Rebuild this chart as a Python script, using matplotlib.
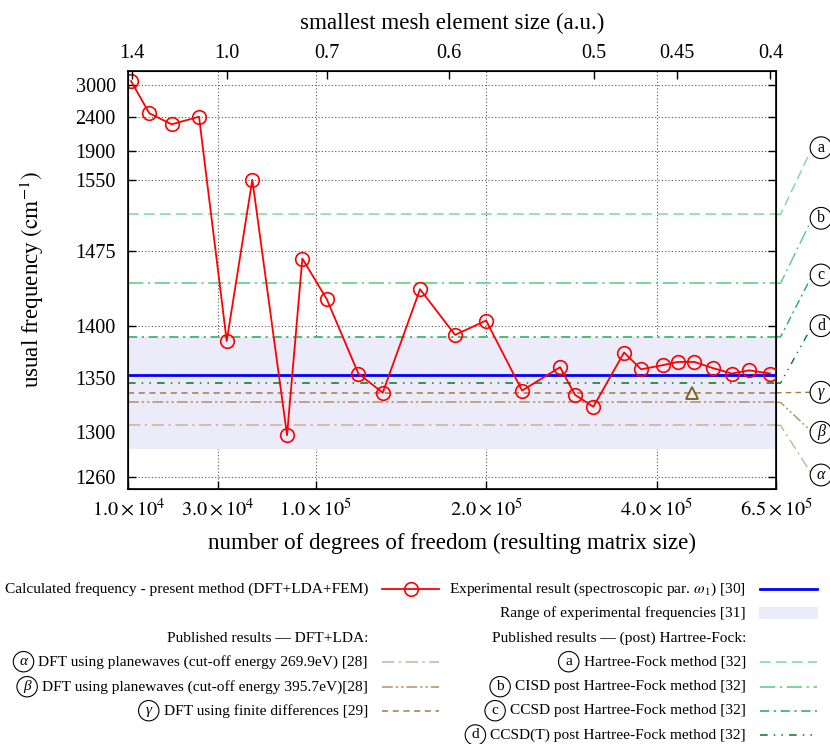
import numpy as np
import matplotlib
matplotlib.use("Agg")
import matplotlib.pyplot as plt
from matplotlib.lines import Line2D
from matplotlib.patches import Rectangle

plt.rcParams["font.family"] = ["Liberation Serif", "DejaVu Serif"]
plt.rcParams["mathtext.fontset"] = "stix"

# =========================
# Data
# =========================
# present method: number of degrees of freedom vs. frequency (cm^-1)
dof = [10340, 12940, 17030, 23810, 33450, 45790, 70100, 84600,
       104500, 118800, 131200, 152700, 176100, 199800, 231300, 270000,
       286900, 309100, 350300, 375400, 410600, 435800, 466400, 503800,
       543000, 582600, 634600]
freq = [3085, 2463, 2281, 2405, 1385, 1550, 1297, 1467,
        1426, 1354, 1336, 1436, 1391, 1405, 1338, 1360,
        1334, 1323, 1374, 1358, 1362, 1365, 1365, 1359,
        1354, 1357, 1354]

exp_freq = 1353                  # experimental result [30]
exp_low, exp_high = 1285, 1389   # range of experimental frequencies [31]

dft_keys = ["α", "β", "γ"]
dft_freq = [1306, 1327, 1336]
dft_labels = ["DFT using planewaves (cut-off energy 269.9eV) [28]",
              "DFT using planewaves (cut-off energy 395.7eV)[28]",
              "DFT using finite differences [29]"]

hf_keys = ["a", "b", "c", "d"]
hf_freq = [1513, 1442, 1389, 1345]
hf_labels = ["Hartree-Fock method [32]",
             "CISD post Hartree-Fock method [32]",
             "CCSD post Hartree-Fock method [32]",
             "CCSD(T) post Hartree-Fock method [32]"]

fd_dof = [461000]     # finite differences point
fd_freq = [1336]

y_ticks = [1260, 1300, 1350, 1400, 1475, 1550, 1900, 2400, 3000]
x_ticks = [1.0e4, 3.0e4, 1.0e5, 2.0e5, 4.0e5, 6.5e5]
x_tick_labels = [r"$1.0\times10^{4}$", r"$3.0\times10^{4}$", r"$1.0\times10^{5}$",
                 r"$2.0\times10^{5}$", r"$4.0\times10^{5}$", r"$6.5\times10^{5}$"]
mesh_ticks = [1.4, 1.0, 0.7, 0.6, 0.5, 0.45, 0.4]
mesh_tick_labels = ["1.4", "1.0", "0.7", "0.6", "0.5", "0.45", "0.4"]

# =========================
# Styles
# =========================
dft_colors = ["#c9b293", "#b3905c", "#a07d45"]
dft_styles = [(0, (8, 3, 1.5, 3)), (0, (7, 2, 1.5, 2, 1.5, 2)), (0, (4, 3))]
hf_colors = ["#77dd99", "#55cc80", "#22aa55", "#007a1f"]
hf_styles = [(0, (7, 3.5)), (0, (10, 3, 1.5, 3)), (0, (6, 3, 1.5, 3)),
             (0, (5, 4, 1, 4, 1, 4))]
band_color = "#ebebfa"
tick_fs = 14.6
label_fs = 16.6
fs = 11.1


# piecewise logarithmic scale: slope changes by k above brk
def broken_log(brk, k):
    lb = np.log(brk)

    def fwd(v):
        l = np.log(np.clip(np.asarray(v, dtype=float), 1e-12, None))
        return np.where(l < lb, l, lb + k * (l - lb))

    def inv(u):
        u = np.asarray(u, dtype=float)
        return np.exp(np.where(u < lb, u, lb + (u - lb) / k))
    return fwd, inv


mfwd, minv = broken_log(1 / 0.7, 2.82)


def mesh_fwd(h):
    return mfwd(1.0 / np.clip(np.asarray(h, dtype=float), 1e-12, None))


def mesh_inv(u):
    return 1.0 / minv(u)


W, H = 830, 744
fig = plt.figure(figsize=(W / 100, H / 100), dpi=100)
ax = fig.add_axes([128.3 / W, 1 - 488.7 / H, (776 - 128.3) / W, (488.7 - 71) / H])

ax.set_xscale("function", functions=broken_log(1e5, 3.015))
ax.set_yscale("function", functions=broken_log(1550, 0.1))
ax.set_xlim(1e4, 6.5e5)
ax.set_ylim(1249.5, 3308)

ax.grid(True, linestyle=(0, (1, 2)), color="#555555", linewidth=0.8)
ax.axhspan(exp_low, exp_high, color=band_color, lw=0, zorder=1.6)

for v, c, ls in zip(dft_freq, dft_colors, dft_styles):
    ax.axhline(v, color=c, ls=ls, lw=1.1, zorder=2)
for v, c, ls in zip(hf_freq, hf_colors, hf_styles):
    ax.axhline(v, color=c, ls=ls, lw=1.1, zorder=2)
ax.axhline(exp_freq, color="#0000ff", lw=2, zorder=3)

ax.plot(dof, freq, color="red", lw=1.3, marker="o", ms=9.8, mfc="none",
        mew=1.2, zorder=5)
ax.plot(fd_dof, fd_freq, ls="none", marker="^", ms=8, mfc="none",
        mec="#7a5c1a", mew=1.3, zorder=5)

ax.set_xticks(x_ticks, x_tick_labels)
ax.set_yticks(y_ticks, [str(v) for v in y_ticks])
ax.tick_params(axis="both", direction="in", length=6, width=1, labelsize=tick_fs,
               right=True, top=False)
ax.tick_params(axis="x", pad=7)
ax.tick_params(axis="y", pad=9)
for s in ax.spines.values():
    s.set_linewidth(1.2)

ax.set_xlabel("number of degrees of freedom (resulting matrix size)", fontsize=label_fs)
ax.xaxis.set_label_coords(0.5, -0.105)
ax.set_ylabel(r"usual frequency $\left(\mathrm{cm}^{-1}\right)$", fontsize=label_fs)
ax.yaxis.set_label_coords(-0.127, 0.5)

# top axis: mesh element size (decreasing to the right)
top = ax.twiny()
top.set_xscale("function", functions=(mesh_fwd, mesh_inv))
top.set_xlim(0.3972, 1.4193)
top.set_xticks(mesh_ticks, mesh_tick_labels)
top.tick_params(axis="x", direction="in", length=6, width=1, labelsize=tick_fs, pad=5.5)
top.set_xlabel("smallest mesh element size (a.u.)", fontsize=label_fs)
top.xaxis.set_label_coords(0.5, 1.0994)

# =========================
# Labels on the right of the plot
# =========================
def axes_y(v):
    disp = ax.transData.transform([[1e4, v]])
    return ax.transAxes.inverted().transform(disp)[0, 1]


circle_box = dict(boxstyle="circle,pad=0.18", fc="white", ec="black", lw=0.8)
right_keys = hf_keys + dft_keys[::-1]
right_vals = hf_freq + dft_freq[::-1]
right_cols = hf_colors + dft_colors[::-1]
right_ls = hf_styles + dft_styles[::-1]
right_pos = [147.7, 218.3, 275, 325.7, 392.3, 432.3, 475]
for key, v, c, ls, py in zip(right_keys, right_vals, right_cols, right_ls, right_pos):
    y0 = axes_y(v)
    yl = (488.7 - py) / 417.7
    ax.plot([1.0, 1.007, 1.056], [y0, y0, yl], transform=ax.transAxes,
            clip_on=False, color=c, ls=ls, lw=1.0)
    style = "italic" if key in dft_keys else "normal"
    ax.text(1.0695, yl, key, transform=ax.transAxes, ha="center", va="center",
            fontsize=11.5, style=style, bbox=circle_box, clip_on=False)

# =========================
# Legend (gnuplot style, text right-aligned, sample on the right)
# =========================
rows = [589, 613.3, 638.3, 661.7, 686.7, 710.7, 735]
legend_circle = dict(boxstyle="circle,pad=0.24", fc="white", ec="black", lw=0.8)


def ftext(px, py, s, **kw):
    return fig.text(px / W, 1 - py / H, s, fontsize=fs, va="center", **kw)


def fline(x0, x1, py, **kw):
    fig.add_artist(Line2D([x0 / W, (x0 + x1) / 2 / W, x1 / W], [1 - py / H] * 3,
                          transform=fig.transFigure, **kw))


keyed = []
ftext(368, rows[0], "Calculated frequency - present method (DFT+LDA+FEM)", ha="right")
fline(382, 439, rows[0], color="red", lw=1.3, marker="o", ms=9.8, mfc="none",
      mew=1.2, markevery=[1])
ftext(368, rows[2], "Published results — DFT+LDA:", ha="right")
for i, (key, lab, c, ls) in enumerate(zip(dft_keys, dft_labels, dft_colors, dft_styles)):
    t = ftext(368, rows[3 + i], lab, ha="right")
    keyed.append((t, key, "italic"))
    fline(382, 439, rows[3 + i], color=c, ls=ls, lw=1.1)

ftext(746, rows[0], r"Experimental result (spectroscopic par. $\omega_1$) [30]", ha="right")
fline(760, 817, rows[0], color="#0000ff", lw=2)
ftext(746, rows[1], "Range of experimental frequencies [31]", ha="right")
fig.add_artist(Rectangle((759 / W, 1 - 618.7 / H), 58.7 / W, 11.4 / H,
                         transform=fig.transFigure, fc=band_color, ec="none"))
ftext(746, rows[2], "Published results — (post) Hartree-Fock:", ha="right")
for i, (key, lab, c, ls) in enumerate(zip(hf_keys, hf_labels, hf_colors, hf_styles)):
    t = ftext(746, rows[3 + i], lab, ha="right")
    keyed.append((t, key, "normal"))
    fline(760, 817, rows[3 + i], color=c, ls=ls, lw=1.1)

fig.canvas.draw()
renderer = fig.canvas.get_renderer()
for t, key, style in keyed:
    bb = t.get_window_extent(renderer)
    cx = bb.x0 - 15
    fig.text(cx / W, (bb.y0 + bb.y1) / 2 / H, key, fontsize=fs, style=style,
             ha="center", va="center", bbox=legend_circle)

fig.savefig("out.png", dpi=100)
